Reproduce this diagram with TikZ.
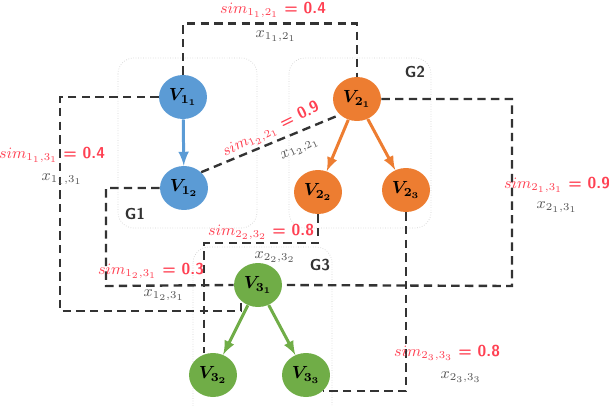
\documentclass[tikz,border=0pt]{standalone}
\usepackage{amsmath,amssymb}
\usepackage{xcolor}
\usepackage{tikz}
\usetikzlibrary{shapes,arrows,positioning,calc}
\definecolor{vblue}{HTML}{5B9BD5}
\definecolor{vorange}{HTML}{ED7D31}
\definecolor{vgreen}{HTML}{70AD47}
\definecolor{simred}{HTML}{FF4052}
\definecolor{xgray}{HTML}{555555}

\begin{document}
\begin{tikzpicture}[
    x=0.02cm, y=-0.02cm,
    vtx/.style={ellipse, fill=#1, minimum width=0.96cm, minimum height=0.88cm, inner sep=0pt},
    grp/.style={draw=gray!35, densely dotted, rounded corners=9pt},
    tree/.style={draw=#1, line width=1.7pt, -latex},
    link/.style={draw=black!80, line width=1.35pt, dash pattern=on 4.8pt off 3pt},
    simlab/.style={text=simred, font=\small, inner sep=1pt},
    xlab/.style={text=xgray, font=\small, inner sep=1pt},
    glab/.style={font=\sffamily\bfseries\small, text=black!80}
]
\useasboundingbox (0,0) rectangle (609,406);

% groups
\draw [grp] (118,58) rectangle (257,228);
\draw [grp] (289,58) rectangle (431,228);
\draw [grp] (193,247) rectangle (332,430);
\node [glab] (g1) at (135,214) {G1};
\node [glab] (g2) at (415,72) {G2};
\node [glab] (g3) at (320,265) {G3};

% vertices
\node [vtx=vblue] (v11) at (183,97) {$\boldsymbol{V_{1_1}}$};
\node [vtx=vblue] (v12) at (184,188) {$\boldsymbol{V_{1_2}}$};
\node [vtx=vorange] (v21) at (357,99) {$\boldsymbol{V_{2_1}}$};
\node [vtx=vorange] (v22) at (318,192) {$\boldsymbol{V_{2_2}}$};
\node [vtx=vorange] (v23) at (406,190) {$\boldsymbol{V_{2_3}}$};
\node [vtx=vgreen] (v31) at (258,285) {$\boldsymbol{V_{3_1}}$};
\node [vtx=vgreen] (v32) at (213,375) {$\boldsymbol{V_{3_2}}$};
\node [vtx=vgreen] (v33) at (306,375) {$\boldsymbol{V_{3_3}}$};

\draw [tree=vblue] (v11) -- (v12);
\draw [tree=vorange] (v21) -- (v22);
\draw [tree=vorange] (v21) -- (v23);
\draw [tree=vgreen] (v31) -- (v32);
\draw [tree=vgreen] (v31) -- (v33);

% similarity links
\draw [link] (v11.north) -- ++(0,-51) -| (v21.north);
\draw [link] (v11.west) -| (60,311) -| (v31.south west);
\draw [link] (v12.west) -| (106,286) -- (v31.west);
\draw [link] (v12.north east) -- (v21.south west);
\draw [link] (v21.east) -| (512,286) -- (v31.east);
\draw [link] (v22.south) |- (204,243) -- (204,0 |- v32.north);
\draw [link] (v23.south) |- (v33.south east);

% labels
\node [simlab] (s1) at (273,10) {$sim_{1_1,2_1}$ \textsf{\textbf{= 0.4}}};
\node [xlab] (x1) at (276,36) {$x_{1_1,2_1}$};
\node [simlab] (s2) at (52,155) {$sim_{1_1,3_1}$ \textsf{\textbf{= 0.4}}};
\node [xlab] (x2) at (62,179) {$x_{1_1,3_1}$};
\node [simlab] (s3) at (151,271) {$sim_{1_2,3_1}$ \textsf{\textbf{= 0.3}}};
\node [xlab] (x3) at (164,295) {$x_{1_2,3_1}$};
\node [simlab, rotate=26] (s4) at (271,130) {$sim_{1_2,2_1}$ \textsf{\textbf{= 0.9}}};
\node [xlab, rotate=26] (x4) at (300,149) {$x_{1_2,2_1}$};
\node [simlab] (s5) at (557,185) {$sim_{2_1,3_1}$ \textsf{\textbf{= 0.9}}};
\node [xlab] (x5) at (557,207) {$x_{2_1,3_1}$};
\node [simlab] (s6) at (261,232) {$sim_{2_2,3_2}$ \textsf{\textbf{= 0.8}}};
\node [xlab] (x6) at (275,257) {$x_{2_2,3_2}$};
\node [simlab] (s7) at (447,353) {$sim_{2_3,3_3}$ \textsf{\textbf{= 0.8}}};
\node [xlab] (x7) at (461,377) {$x_{2_3,3_3}$};

\end{tikzpicture}
\end{document}
